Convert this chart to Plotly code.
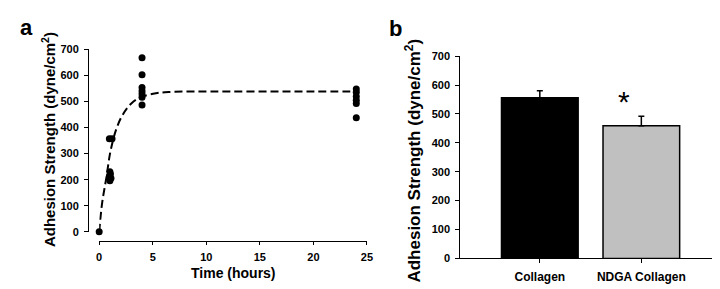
import plotly.graph_objects as go

# Panel a: adhesion strength over time
time_h = [0, 0.95, 1.2, 1.0, 1.05, 0.95, 1.1, 1.0, 4, 4, 4, 4, 4, 4, 4, 24, 24, 24, 24, 24, 24]
strength = [0, 357, 357, 230, 222, 214, 205, 196, 667, 602, 553, 540, 528, 516, 486,
            547, 535, 519, 504, 492, 437]
fit_t = [0, 0.28, 0.68, 1.05, 1.6, 2.2, 3.0, 3.9, 5.3, 6.5, 9, 12, 16, 20, 24]
fit_y = [0, 112, 210, 308, 394, 449, 492, 516, 531, 536, 538, 538, 538, 538, 538]
x_ticks = [0, 5, 10, 15, 20, 25]
y_ticks = [0, 100, 200, 300, 400, 500, 600, 700]

# Panel b: bar comparison
groups = ["Collagen", "NDGA Collagen"]
means = [556, 459]
errors_up = [24, 33]
bar_colors = ["#000000", "#c0c0c0"]

W, H = 720, 289
FONT = "Liberation Sans, Arial, sans-serif"

fig = go.Figure()

fig.add_trace(go.Scatter(
    x=fit_t, y=fit_y, mode="lines", line=dict(color="black", width=2, dash="8px,4px", shape="spline"),
    xaxis="x", yaxis="y", showlegend=False, cliponaxis=False))
fig.add_trace(go.Scatter(
    x=time_h, y=strength, mode="markers", marker=dict(color="black", size=7),
    xaxis="x", yaxis="y", showlegend=False, cliponaxis=False))

fig.add_trace(go.Bar(
    x=groups, y=means, marker=dict(color=bar_colors, line=dict(color="black", width=1.5)),
    width=0.755,
    error_y=dict(type="data", symmetric=False, array=errors_up, arrayminus=[0, 0],
                 color="black", thickness=1.5, width=3),
    xaxis="x2", yaxis="y2", showlegend=False))

tickfont = dict(family=FONT, size=11, color="black", weight="bold")

ax_common = dict(showline=True, linecolor="black", linewidth=1, ticks="outside",
                 tickcolor="black", tickwidth=1, showgrid=False, zeroline=False)

fig.update_layout(
    width=W, height=H, margin=dict(l=0, r=0, t=0, b=0),
    paper_bgcolor="white", plot_bgcolor="white",
    xaxis=dict(domain=[89.3 / W, 360.5 / W], range=[0, 25], tickvals=x_ticks,
               anchor="free", position=1 - 236.5 / H, ticklen=3, ticklabelstandoff=3,
               tickfont=tickfont, **ax_common),
    yaxis=dict(domain=[1 - 227.3 / H, 1 - 36.7 / H], range=[0, 700], tickvals=y_ticks,
               anchor="free", position=78 / W, ticklen=4, ticklabelstandoff=3,
               tickfont=tickfont, **ax_common),
    xaxis2=dict(domain=[455 / W, 718 / W], range=[-0.783, 1.775], anchor="y2",
                type="category", ticklen=4, ticklabelstandoff=3,
                tickfont=dict(family=FONT, size=12, color="black", weight="bold"), **ax_common),
    yaxis2=dict(domain=[1 - 255 / H, 1 - 44 / H], range=[0, 700], tickvals=y_ticks,
                anchor="x2", ticklen=4, ticklabelstandoff=3,
                tickfont=tickfont, **ax_common),
)

ann = []
title_txt = "Adhesion Strength (dyne/cm<sup>2</sup>)"
ann.append(dict(text=title_txt, x=38 / W, y=1 - 131 / H, xref="paper", yref="paper",
                textangle=-90, showarrow=False, xanchor="center", yanchor="middle",
                font=dict(family=FONT, size=15, color="black", weight="bold")))
ann.append(dict(text=title_txt, x=407 / W, y=1 - 153 / H, xref="paper", yref="paper",
                textangle=-90, showarrow=False, xanchor="center", yanchor="middle",
                font=dict(family=FONT, size=17, color="black", weight="bold")))
ann.append(dict(text="Time (hours)", x=225 / W, y=1 - 270 / H, xref="paper", yref="paper",
                showarrow=False, xanchor="center", yanchor="middle",
                font=dict(family=FONT, size=14, color="black", weight="bold")))
ann.append(dict(text="a", x=16 / W, y=1 - 14 / H, xref="paper", yref="paper",
                showarrow=False, xanchor="center", yanchor="middle",
                font=dict(family=FONT, size=22, color="black", weight="bold")))
ann.append(dict(text="b", x=389 / W, y=1 - 15 / H, xref="paper", yref="paper",
                showarrow=False, xanchor="center", yanchor="middle",
                font=dict(family=FONT, size=22, color="black", weight="bold")))
ann.append(dict(text="*", x=groups[1], y=534, xref="x2", yref="y2", xshift=-17, yshift=3,
                showarrow=False, xanchor="center", yanchor="middle",
                font=dict(family=FONT, size=30, color="black")))
fig.update_layout(annotations=ann)

fig.write_html("out.html")
